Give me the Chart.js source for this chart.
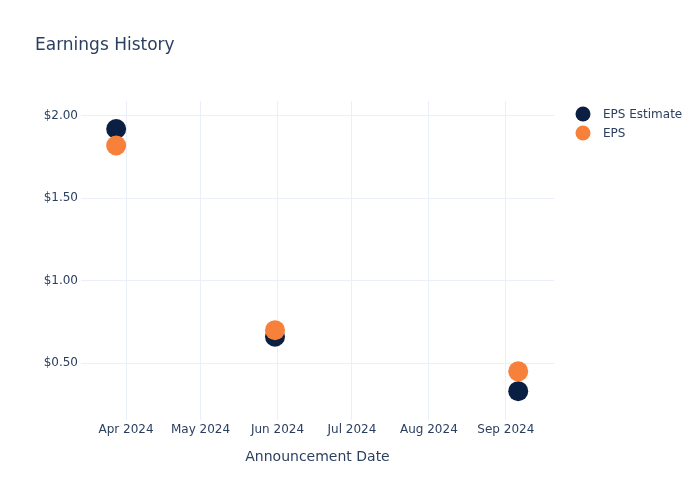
<!DOCTYPE html>
<html>
<head>
<meta charset="utf-8">
<script src="https://cdn.jsdelivr.net/npm/chart.js@4"></script>
<style>
  html, body { margin: 0; padding: 0; background: #fff; }
  #wrap { width: 700px; height: 500px; }
</style>
</head>
<body>
<div id="wrap"><canvas id="c" width="700" height="500"></canvas></div>
<script>
// ---- data ----
const announcementDates = ["2024-03-28", "2024-05-31", "2024-09-06"];
const epsEstimate = [1.92, 0.66, 0.33];
const epsActual = [1.82, 0.70, 0.45];
const xTickDates = ["2024-04-01", "2024-05-01", "2024-06-01", "2024-07-01", "2024-08-01", "2024-09-01"];
const xTickLabels = ["Apr 2024", "May 2024", "Jun 2024", "Jul 2024", "Aug 2024", "Sep 2024"];
const yTickValues = [0.5, 1.0, 1.5, 2.0];
const xRange = ["2024-03-13T20:00", "2024-09-20T10:00"];
const yRange = [0.155, 2.09];

const toTs = s => { const d = new Date(s + (s.length === 10 ? "T00:00:00Z" : ":00Z")); return d.getTime(); };
const tickTs = xTickDates.map(toTs);

const FONT = "'DejaVu Sans', 'Open Sans', sans-serif";
const TEXT = "#2a3f5f";
const GRID = "#ebf0f8";
const NAVY = "#0b1f42";
const ORANGE = "#f7803a";

const legendPlugin = {
  id: "customLegend",
  afterDraw(chart) {
    const ctx = chart.ctx;
    ctx.save();
    chart.data.datasets.forEach((ds, i) => {
      const y = 114 + i * 19;
      ctx.beginPath();
      ctx.fillStyle = ds.backgroundColor;
      ctx.arc(583, y, 7.5, 0, Math.PI * 2);
      ctx.fill();
      ctx.fillStyle = TEXT;
      ctx.font = "12px " + FONT;
      ctx.textBaseline = "middle";
      ctx.textAlign = "left";
      ctx.fillText(ds.label, 603, y + 1);
    });
    ctx.restore();
  }
};

new Chart(document.getElementById("c"), {
  type: "scatter",
  data: {
    datasets: [
      {
        label: "EPS Estimate",
        data: announcementDates.map((d, i) => ({ x: toTs(d), y: epsEstimate[i] })),
        backgroundColor: NAVY,
        borderColor: NAVY,
        borderWidth: 0,
        pointRadius: 10,
        pointHoverRadius: 10,
        order: 2
      },
      {
        label: "EPS",
        data: announcementDates.map((d, i) => ({ x: toTs(d), y: epsActual[i] })),
        backgroundColor: ORANGE,
        borderColor: ORANGE,
        borderWidth: 0,
        pointRadius: 10,
        pointHoverRadius: 10,
        order: 1
      }
    ]
  },
  options: {
    responsive: false,
    animation: false,
    devicePixelRatio: 1,
    layout: { padding: { left: 35, right: 146, top: 0, bottom: 0 } },
    plugins: {
      legend: { display: false },
      tooltip: { enabled: false },
      title: {
        display: true,
        text: "Earnings History",
        align: "start",
        color: TEXT,
        font: { family: FONT, size: 17, weight: "normal" },
        padding: { top: 35, bottom: 45.6 }
      }
    },
    scales: {
      x: {
        type: "linear",
        min: toTs(xRange[0]),
        max: toTs(xRange[1]),
        afterBuildTicks(scale) { scale.ticks = tickTs.map(v => ({ value: v })); },
        afterFit(scale) { scale.height = 80; },
        ticks: {
          color: TEXT,
          font: { family: FONT, size: 12 },
          padding: 3,
          maxRotation: 0,
          autoSkip: false,
          callback(value) { const i = tickTs.indexOf(value); return i >= 0 ? xTickLabels[i] : ""; }
        },
        grid: { color: GRID, drawTicks: false, lineWidth: 1 },
        border: { display: false },
        title: {
          display: true,
          text: "Announcement Date",
          color: TEXT,
          font: { family: FONT, size: 14 },
          padding: { top: 10, bottom: 34 }
        }
      },
      y: {
        type: "linear",
        min: yRange[0],
        max: yRange[1],
        afterBuildTicks(scale) { scale.ticks = yTickValues.map(v => ({ value: v })); },
        afterFit(scale) { scale.width = 46; },
        ticks: {
          color: TEXT,
          font: { family: FONT, size: 12 },
          padding: 3,
          callback(value) { return "$" + Number(value).toFixed(2); }
        },
        grid: { color: GRID, drawTicks: false, lineWidth: 1 },
        border: { display: false }
      }
    }
  },
  plugins: [legendPlugin]
});
</script>
</body>
</html>
